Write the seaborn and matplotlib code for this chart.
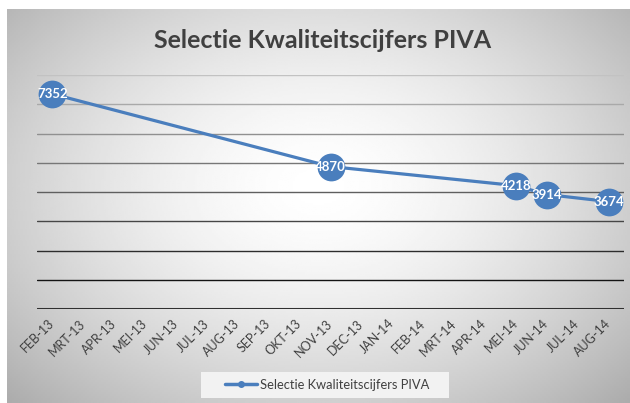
import numpy as np
import pandas as pd
import matplotlib
matplotlib.use("Agg")
import matplotlib.pyplot as plt
import matplotlib.transforms as mtransforms
from matplotlib.patches import Rectangle
import seaborn as sns

# months on the category axis and the measured values (None = no measurement)
months = ["FEB-13", "MRT-13", "APR-13", "MEI-13", "JUN-13", "JUL-13", "AUG-13",
          "SEP-13", "OKT-13", "NOV-13", "DEC-13", "JAN-14", "FEB-14", "MRT-14",
          "APR-14", "MEI-14", "JUN-14", "JUL-14", "AUG-14"]
values = [7352, None, None, None, None, None, None, None, None, 4870,
          None, None, None, None, None, 4218, 3914, None, 3674]
series_name = "Selectie Kwaliteitscijfers PIVA"

df = pd.DataFrame({"maand": months, "waarde": values})
df["pos"] = np.arange(len(df))
pts = df.dropna()

sns.set_style("white")
plt.rcParams["font.family"] = ["Lato", "DejaVu Sans"]

blue = "#4a7ebd"
W, H = 630, 403
fig = plt.figure(figsize=(6.3, 4.03), dpi=100)

# gradient background of the chart box
bg = fig.add_axes([7 / W, 0, 1 - 7 / W, 1 - 9 / H], zorder=-5)
yy, xx = np.mgrid[0:1:200j, 0:1:300j]
r = np.sqrt(((xx - 0.5) / 0.72) ** 2 + ((yy - 0.45) / 0.8) ** 2)
img = 1.0 - 0.34 * np.clip(r, 0, 1) ** 1.6
bg.imshow(img, cmap="gray", vmin=0, vmax=1, aspect="auto", extent=(0, 1, 0, 1))
bg.axis("off")

ax = fig.add_axes([37 / W, 94 / H, 587 / W, 234 / H])
ax.set_facecolor("none")
sns.lineplot(data=pts, x="pos", y="waarde", ax=ax, color=blue, lw=2.3,
             marker="o", markersize=20, markeredgewidth=0, legend=False)

for _, row in pts.iterrows():
    ax.text(row["pos"], row["waarde"], f"{int(row['waarde'])}", color="white",
            fontsize=9.5, fontweight="bold", ha="center", va="center")

ax.set_xlim(-0.5, len(months) - 0.5)
ax.set_ylim(0, 8000)
grid_vals = np.arange(1000, 8001, 1000)
for g in grid_vals:
    shade = 0.08 + 0.68 * (g - 1000) / 7000
    ax.axhline(g, color=str(shade), lw=1.0, zorder=0)
ax.axhline(0, color="#303030", lw=2.2, zorder=0)

ax.set_yticks([])
ax.set_xticks(df["pos"])
ax.set_xticklabels(months, rotation=45, ha="right", va="center",
                   rotation_mode="anchor", fontsize=9, color="#404040")
shift = mtransforms.ScaledTranslation(6 / 100, 0, fig.dpi_scale_trans)
for lbl in ax.get_xticklabels():
    lbl.set_transform(lbl.get_transform() + shift)
ax.tick_params(axis="x", length=0, pad=9)
ax.set_xlabel("")
ax.set_ylabel("")
for s in ax.spines.values():
    s.set_visible(False)

fig.text(323 / W, 1 - 48 / H, series_name, fontsize=18, fontweight="bold",
         color="#404040", ha="center", va="baseline")

# legend box
fig.patches.append(Rectangle((201 / W, 1 - 398 / H), 248 / W, 26 / H,
                             transform=fig.transFigure, facecolor="#f2f2f2",
                             edgecolor="none", zorder=-1))
handle = plt.Line2D([], [], color=blue, lw=2.5, marker="o", markersize=4)
leg = fig.legend([handle], [series_name], loc="center",
                 bbox_to_anchor=(327 / W, 1 - 385 / H), frameon=False,
                 fontsize=9.3, handlelength=2.5, handletextpad=0.2)
for t in leg.get_texts():
    t.set_color("#404040")

fig.savefig("out.png", dpi=100)
